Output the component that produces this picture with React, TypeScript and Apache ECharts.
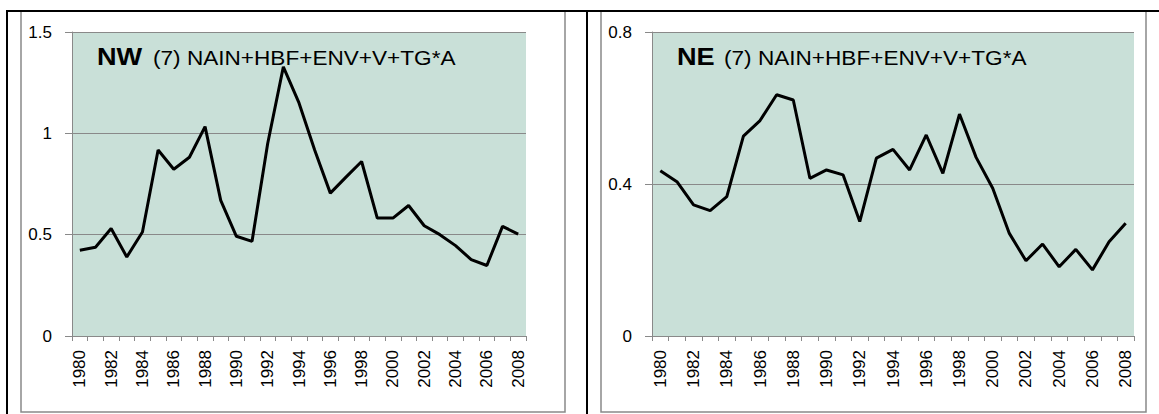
import React, { useEffect, useRef } from "react";
import * as echarts from "echarts";

const years = [
  "1980", "1981", "1982", "1983", "1984", "1985", "1986", "1987", "1988", "1989",
  "1990", "1991", "1992", "1993", "1994", "1995", "1996", "1997", "1998", "1999",
  "2000", "2001", "2002", "2003", "2004", "2005", "2006", "2007", "2008",
];

const nwValues = [
  0.423, 0.438, 0.53, 0.39, 0.513, 0.918, 0.823, 0.882, 1.033, 0.669,
  0.492, 0.467, 0.95, 1.328, 1.15, 0.918, 0.705, 0.784, 0.861, 0.582,
  0.582, 0.644, 0.544, 0.5, 0.446, 0.377, 0.348, 0.541, 0.503,
];

const neValues = [
  0.435, 0.406, 0.345, 0.33, 0.367, 0.526, 0.567, 0.635, 0.621, 0.415,
  0.437, 0.424, 0.301, 0.468, 0.491, 0.437, 0.529, 0.428, 0.584, 0.47,
  0.389, 0.27, 0.198, 0.242, 0.182, 0.228, 0.174, 0.248, 0.297,
];

const nwAxis = { min: 0, max: 1.5, interval: 0.5 };
const neAxis = { min: 0, max: 0.8, interval: 0.4 };

const panelTitles = [
  { bold: "NW", rest: "(7) NAIN+HBF+ENV+V+TG*A" },
  { bold: "NE", rest: "(7) NAIN+HBF+ENV+V+TG*A" },
];
const restOffsets = [56, 47];

const FONT = "'Liberation Sans', Arial, sans-serif";
const GREY = "#898989";
const PLOT_BG = "#C9E0D8";

export default function App() {
  const ref = useRef<HTMLDivElement>(null);

  useEffect(() => {
    if (!ref.current) return;
    const chart = echarts.init(ref.current, null, { renderer: "svg" });

    const grids = [
      { left: 72, top: 32, width: 454, height: 304 },
      { left: 652, top: 32, width: 482, height: 304 },
    ];

    const xAxis = grids.map((_, i) => ({
      type: "category",
      gridIndex: i,
      data: years,
      boundaryGap: true,
      axisLine: { show: true, lineStyle: { color: GREY, width: 1 } },
      axisTick: { show: true, interval: 0, length: 5, lineStyle: { color: GREY } },
      axisLabel: {
        interval: 1,
        rotate: 90,
        margin: 14,
        color: "#000",
        fontFamily: FONT,
        fontSize: 17,
      },
      splitLine: { show: false },
    }));

    const yAxis = [nwAxis, neAxis].map((a, i) => ({
      type: "value",
      gridIndex: i,
      min: a.min,
      max: a.max,
      interval: a.interval,
      axisLine: { show: true, lineStyle: { color: GREY, width: 1 } },
      axisTick: { show: true, length: 7, lineStyle: { color: GREY } },
      axisLabel: {
        margin: 20,
        color: "#000",
        fontFamily: FONT,
        fontSize: 17,
      },
      splitLine: { show: true, lineStyle: { color: GREY, width: 1 } },
    }));

    const frames = [
      { x: 21, y: 11, w: 544, h: 401 },
      { x: 601, y: 11, w: 545, h: 401 },
    ];

    const graphic: any[] = [];
    frames.forEach((f) => {
      graphic.push({
        type: "rect",
        shape: { x: f.x, y: f.y, width: f.w, height: f.h },
        style: { fill: "none", stroke: GREY, lineWidth: 1.5 },
        z: 1,
      });
    });
    // table borders
    graphic.push(
      { type: "line", shape: { x1: 6, y1: 11, x2: 1159, y2: 11 }, style: { stroke: "#000", lineWidth: 2 }, z: 2 },
      { type: "line", shape: { x1: 7, y1: 10, x2: 7, y2: 414 }, style: { stroke: "#000", lineWidth: 2 }, z: 2 },
      { type: "line", shape: { x1: 587, y1: 10, x2: 587, y2: 414 }, style: { stroke: "#000", lineWidth: 2 }, z: 2 }
    );
    // titles
    panelTitles.forEach((t, i) => {
      const x0 = grids[i].left + 25;
      graphic.push({
        type: "text",
        x: x0,
        y: 68,
        scaleX: 1.18,
        z: 10,
        style: {
          text: t.bold,
          verticalAlign: "bottom",
          fill: "#000",
          fontFamily: FONT,
          fontWeight: "bold",
          fontSize: 23,
        },
      });
      graphic.push({
        type: "text",
        x: x0 + restOffsets[i],
        y: 68,
        scaleX: 1.13,
        z: 10,
        style: {
          text: t.rest,
          verticalAlign: "bottom",
          fill: "#000",
          fontFamily: FONT,
          fontSize: 20,
        },
      });
    });

    chart.setOption({
      animation: false,
      backgroundColor: "#fff",
      grid: grids.map((g) => ({
        ...g,
        show: true,
        backgroundColor: PLOT_BG,
        borderWidth: 0,
        containLabel: false,
      })),
      xAxis,
      yAxis,
      series: [
        {
          type: "line",
          xAxisIndex: 0,
          yAxisIndex: 0,
          data: nwValues,
          symbol: "none",
          lineStyle: { color: "#000", width: 3 },
          z: 5,
        },
        {
          type: "line",
          xAxisIndex: 1,
          yAxisIndex: 1,
          data: neValues,
          symbol: "none",
          lineStyle: { color: "#000", width: 3 },
          z: 5,
        },
      ],
      graphic,
    });

    return () => chart.dispose();
  }, []);

  return (
    <div
      ref={ref}
      style={{ position: "absolute", left: 0, top: 0, width: 1159, height: 414 }}
    />
  );
}
